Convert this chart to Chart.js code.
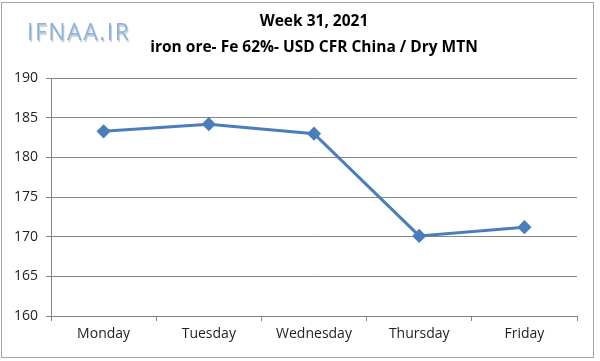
<!DOCTYPE html>
<html lang="en">
  <head>
    <meta charset="UTF-8" />
    <title>Week 31, 2021 - iron ore</title>
    <script src="https://cdn.jsdelivr.net/npm/chart.js"></script>
    <style>
      body { margin: 0; background: #fff; }
      .quadro {
        position: relative;
        width: 600px;
        height: 361px;
      }
      .borda {
        position: absolute;
        left: 1px;
        top: 2px;
        width: 591px;
        height: 354px;
        border: 1px solid #a6a6a6;
        pointer-events: none;
      }
      .marca {
        position: absolute;
        left: 27px;
        top: 15px;
        font-family: "Open Sans", sans-serif;
        font-size: 23px;
        letter-spacing: 1.5px;
        color: #8db3e2;
        text-shadow: 1px 2px 1px #c8c8c8;
      }
    </style>
  </head>
  <body>
    <div class="quadro">
      <canvas id="grafico" width="600" height="361"></canvas>
      <div class="borda"></div>
      <div class="marca">IFNAA.IR</div>
    </div>

    <script>
      // dados
      var dias = ["Monday", "Tuesday", "Wednesday", "Thursday", "Friday"];
      var precos = [183.3, 184.2, 183.0, 170.1, 171.2];
      var titulo = "Week 31, 2021";
      var subtitulo = "iron ore- Fe 62%- USD CFR China / Dry MTN";
      var eixoMin = 160;
      var eixoMax = 190;
      var passo = 5;

      var corLinha = "#4a7ebb";
      var corGrade = "#868686";

      const ctx = document.getElementById("grafico");
      new Chart(ctx, {
        type: "line",
        data: {
          labels: dias,
          datasets: [
            {
              label: "iron ore",
              data: precos,
              borderColor: corLinha,
              backgroundColor: corLinha,
              borderWidth: 3,
              pointStyle: "rectRot",
              pointRadius: 5,
              pointHoverRadius: 5,
              tension: 0,
            },
          ],
        },
        options: {
          responsive: false,
          animation: false,
          layout: {
            padding: { left: 0, right: 23, top: 0, bottom: 0 },
          },
          plugins: {
            legend: { display: false },
            tooltip: { enabled: false },
            title: {
              display: true,
              text: titulo,
              fullSize: false,
              color: "#000",
              font: { family: "Open Sans", size: 15.5, weight: "bold" },
              padding: { top: 12, bottom: 6 },
            },
            subtitle: {
              display: true,
              text: subtitulo,
              fullSize: false,
              color: "#000",
              font: { family: "Open Sans", size: 15.5, weight: "bold" },
              padding: { top: 2, bottom: 21 },
            },
          },
          scales: {
            x: {
              offset: true,
              afterFit: function (scale) {
                scale.height = 45;
              },
              border: { color: corGrade, width: 1 },
              grid: {
                offset: true,
                drawOnChartArea: false,
                drawTicks: true,
                tickLength: 5,
                color: corGrade,
              },
              ticks: {
                color: "#222",
                padding: 5,
                font: { family: "Open Sans", size: 14 },
              },
            },
            y: {
              min: eixoMin,
              max: eixoMax,
              afterFit: function (scale) {
                scale.width = 51;
              },
              border: { color: corGrade, width: 1 },
              grid: {
                color: corGrade,
                tickLength: 5,
              },
              ticks: {
                stepSize: passo,
                color: "#222",
                padding: 8,
                font: { family: "Open Sans", size: 14 },
              },
            },
          },
        },
      });
    </script>
  </body>
</html>
